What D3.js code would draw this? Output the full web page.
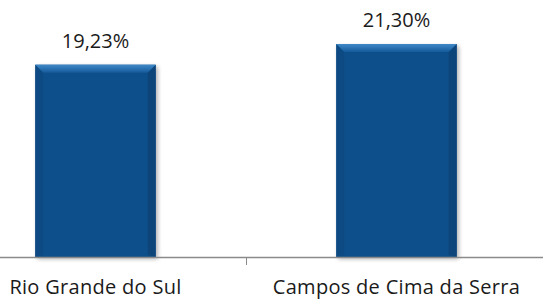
<!DOCTYPE html>
<html>
<head>
<meta charset="utf-8">
<script src="https://cdn.jsdelivr.net/npm/d3@7"></script>
<style>
  body { margin: 0; background: #fff; }
  svg text { font-family: "Open Sans", "Noto Sans", sans-serif; fill: #1a1a1a; }
</style>
</head>
<body>
<svg id="chart" width="543" height="299"></svg>
<script>
const categories = ['Rio Grande do Sul', 'Campos de Cima da Serra'];
const values = [19.23, 21.30];
const valueLabels = ['19,23%', '21,30%'];

const svg = d3.select('#chart');
const width = 543;
const baseY = 257;

// chart area is cropped on both sides in the original
const x = d3.scaleBand()
  .domain(categories)
  .range([-55, 547])
  .paddingInner(0.6)
  .paddingOuter(0.3);

const y = d3.scaleLinear()
  .domain([0, 25])
  .range([baseY, 7]);

const defs = svg.append('defs');
const shadow = defs.append('filter')
  .attr('id', 'shadow')
  .attr('x', '-20%').attr('y', '-20%')
  .attr('width', '140%').attr('height', '140%');
shadow.append('feGaussianBlur').attr('in', 'SourceAlpha').attr('stdDeviation', 2);
shadow.append('feOffset').attr('dx', 2).attr('dy', 2).attr('result', 'blur');
shadow.append('feComponentTransfer').append('feFuncA').attr('type', 'linear').attr('slope', 0.3);
const merge = shadow.append('feMerge');
merge.append('feMergeNode');
merge.append('feMergeNode').attr('in', 'SourceGraphic');

const topGrad = defs.append('linearGradient')
  .attr('id', 'topBevel').attr('x1', 0).attr('y1', 0).attr('x2', 0).attr('y2', 1);
topGrad.append('stop').attr('offset', '0%').attr('stop-color', '#4089c9');
topGrad.append('stop').attr('offset', '100%').attr('stop-color', '#155a9a');

const bev = 8;
const bars = svg.append('g').attr('class', 'bars')
  .selectAll('g.bar')
  .data(categories.map((c, i) => ({ cat: c, value: values[i], label: valueLabels[i] })))
  .join('g')
  .attr('class', 'bar');

bars.each(function (d) {
  const g = d3.select(this);
  const x0 = x(d.cat);
  const w = x.bandwidth();
  const y0 = y(d.value);
  const h = baseY - y0;
  const inner = g.append('g').attr('filter', 'url(#shadow)');
  inner.append('rect')
    .attr('x', x0).attr('y', y0)
    .attr('width', w).attr('height', h)
    .attr('fill', '#0a4f8a');
  // left / right bevels (subtle)
  inner.append('polygon')
    .attr('points', [[x0, y0], [x0 + bev, y0 + bev], [x0 + bev, baseY - 2], [x0, baseY]].join(' '))
    .attr('fill', '#094a83');
  inner.append('polygon')
    .attr('points', [[x0 + w, y0], [x0 + w - bev, y0 + bev], [x0 + w - bev, baseY - 2], [x0 + w, baseY]].join(' '))
    .attr('fill', '#08457a');
  // top bevel
  inner.append('polygon')
    .attr('points', [[x0, y0], [x0 + w, y0], [x0 + w - bev, y0 + bev], [x0 + bev, y0 + bev]].join(' '))
    .attr('fill', 'url(#topBevel)');

  g.append('text')
    .attr('x', x0 + w / 2)
    .attr('y', y0 - 17)
    .attr('text-anchor', 'middle')
    .style('font-size', '20px')
    .text(d.label);
});

// axis
svg.append('line')
  .attr('x1', 0).attr('x2', width)
  .attr('y1', baseY + 0.5).attr('y2', baseY + 0.5)
  .attr('stroke', '#8a8a8a').attr('stroke-width', 1.5);

const mid = (x(categories[0]) + x.bandwidth() + x(categories[1])) / 2;
svg.append('line')
  .attr('x1', Math.round(mid) + 0.5).attr('x2', Math.round(mid) + 0.5)
  .attr('y1', baseY).attr('y2', baseY + 8)
  .attr('stroke', '#8a8a8a').attr('stroke-width', 1);

svg.append('g').selectAll('text.cat')
  .data(categories)
  .join('text')
  .attr('class', 'cat')
  .attr('x', d => x(d) + x.bandwidth() / 2)
  .attr('y', 294)
  .attr('text-anchor', 'middle')
  .style('font-size', '20px')
  .style('letter-spacing', '0.3px')
  .text(d => d);
</script>
</body>
</html>
